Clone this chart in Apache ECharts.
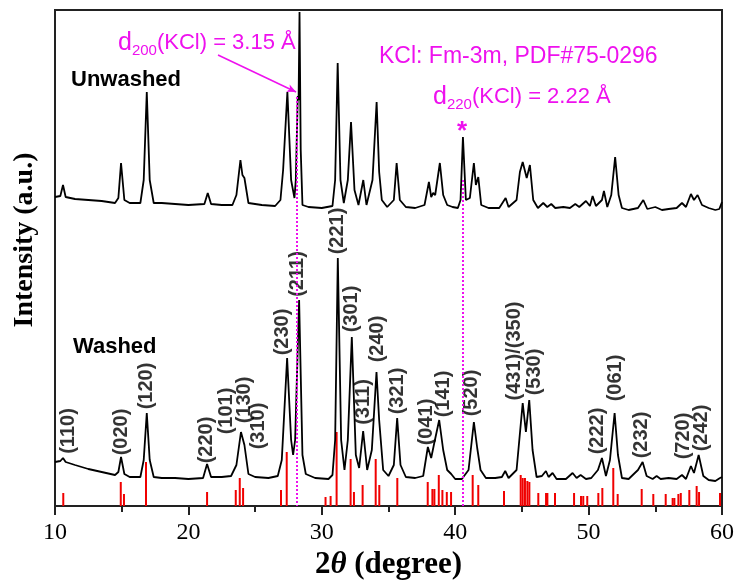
<!DOCTYPE html>
<html>
<head>
<meta charset="utf-8">
<script src="https://cdn.jsdelivr.net/npm/echarts@6/dist/echarts.min.js"></script>
<style>
html, body { margin: 0; padding: 0; background: #fff; }
#MyChart { width: 735px; height: 581px; }
</style>
</head>
<body>
<div id="MyChart"></div>
<script>
// intensity in a.u. (offset traces), 2theta in degrees
var unwashed = [
	[10.0, 309], [10.4, 310], [10.6, 321], [10.8, 309], [11.5, 307], [12.5, 306], [13.5, 305], [14.5, 303],
	[14.75, 308], [14.95, 343], [15.2, 306], [15.6, 303], [16.4, 303], [16.65, 326], [16.88, 414], [17.1, 326],
	[17.4, 303], [18, 303], [19, 302], [20, 301], [21.2, 302], [21.45, 313], [21.7, 302], [22.5, 301],
	[23.3, 301], [23.6, 311], [23.9, 346], [24.05, 331], [24.2, 328], [24.5, 303], [25.5, 301], [26.5, 300],
	[26.9, 306], [27.1, 336], [27.42, 414], [27.7, 326], [27.95, 308], [28.05, 326], [28.2, 410], [28.26, 406],
	[28.33, 494], [28.42, 356], [28.55, 301], [29, 299], [30, 298], [30.8, 300], [31.0, 326], [31.19, 443],
	[31.4, 326], [31.65, 303], [31.95, 326], [32.19, 384], [32.45, 316], [32.75, 301], [33.11, 326], [33.35, 301],
	[33.8, 326], [34.11, 404], [34.3, 334], [34.5, 306], [34.9, 299], [35.4, 306], [35.61, 343], [35.85, 306],
	[36.3, 299], [37.0, 298], [37.7, 301], [38.03, 324], [38.2, 309], [38.35, 313], [38.5, 311], [38.85, 343],
	[39.1, 311], [39.4, 301], [39.8, 299], [40.2, 298], [40.4, 306], [40.58, 369], [40.8, 306], [41.1, 308],
	[41.4, 343], [41.55, 321], [41.73, 329], [41.95, 301], [42.5, 298], [43.3, 298], [43.78, 308], [44.0, 299],
	[44.6, 306], [44.85, 334], [45.06, 344], [45.36, 328], [45.6, 341], [45.85, 306], [46.2, 298], [46.6, 303],
	[46.9, 299], [47.2, 302], [47.5, 298], [48.1, 299], [48.6, 298], [49.0, 302], [49.3, 299], [49.8, 305],
	[50.1, 300], [50.3, 310], [50.55, 300], [51.0, 306], [51.15, 315], [51.4, 299], [51.7, 311], [51.99, 349],
	[52.25, 311], [52.5, 298], [53.0, 296], [53.7, 298], [54.1, 306], [54.4, 297], [55.0, 299], [55.5, 296],
	[56.0, 297], [56.6, 298], [57.0, 303], [57.3, 299], [57.67, 312], [57.9, 306], [58.17, 311], [58.5, 301],
	[59.0, 298], [59.5, 296], [59.8, 297], [60.0, 304]
];

var washed = [
	[10.0, 44], [10.4, 45], [10.6, 48], [10.8, 44], [11.5, 41], [12.5, 37], [13.5, 34], [14.5, 31],
	[14.75, 34], [14.95, 49], [15.2, 32], [15.6, 29], [16.4, 29], [16.65, 46], [16.88, 93], [17.1, 46],
	[17.4, 29], [18, 28], [19, 28], [20, 27], [21.1, 28], [21.4, 42], [21.7, 29], [22.5, 29],
	[23.2, 30], [23.6, 41], [23.94, 74], [24.2, 61], [24.5, 32], [25, 29], [26, 28], [26.7, 30],
	[27.0, 46], [27.4, 148], [27.7, 66], [27.85, 51], [28.0, 66], [28.3, 206], [28.55, 51], [28.8, 32],
	[29.5, 28], [30.5, 27], [30.8, 31], [31.0, 66], [31.2, 248], [31.45, 66], [31.7, 36], [31.95, 66],
	[32.25, 169], [32.55, 51], [32.8, 38], [33.1, 75], [33.4, 36], [33.75, 56], [34.1, 134], [34.3, 86],
	[34.6, 36], [35.0, 30], [35.4, 41], [35.65, 88], [35.9, 41], [36.3, 29], [37.0, 28], [37.6, 30],
	[37.95, 59], [38.2, 48], [38.4, 61], [38.8, 86], [39.1, 56], [39.4, 36], [39.7, 32], [40.0, 27],
	[40.5, 27], [41.0, 36], [41.4, 84], [41.65, 58], [41.9, 36], [42.3, 28], [43.0, 28], [43.5, 29],
	[43.75, 35], [44.0, 28], [44.6, 36], [45.06, 103], [45.3, 74], [45.55, 106], [45.8, 56], [46.1, 29],
	[46.5, 30], [46.8, 35], [47.0, 29], [47.3, 33], [47.6, 27], [48.3, 27], [48.8, 33], [49.1, 28],
	[49.4, 31], [49.8, 27], [50.2, 28], [50.7, 36], [51.0, 48], [51.3, 30], [51.6, 46], [51.95, 93],
	[52.2, 51], [52.5, 28], [53.0, 27], [53.7, 36], [54.05, 44], [54.35, 30], [54.8, 27], [55.1, 30],
	[55.4, 27], [56.0, 28], [56.6, 27], [57.0, 31], [57.3, 27], [57.67, 40], [57.9, 33], [58.25, 51],
	[58.6, 30], [59.0, 26], [59.5, 25], [59.85, 28], [60.0, 29]
];

// reference pattern sticks
var sticks = [
	[10.62, 13], [14.93, 24], [15.17, 12], [16.82, 44], [21.4, 14], [23.55, 16], [23.85, 28], [24.1, 18],
	[26.94, 16], [27.37, 54], [30.28, 9], [30.66, 10], [31.11, 74], [32.16, 47], [32.41, 14], [33.06, 21],
	[34.04, 47], [34.31, 21], [35.66, 28], [37.94, 24], [38.29, 17], [38.44, 17], [38.77, 31], [39.04, 16],
	[39.37, 14], [39.69, 14], [41.31, 31], [41.73, 21], [43.66, 15], [44.91, 31], [45.06, 28], [45.23, 28],
	[45.41, 25], [45.56, 24], [46.23, 13], [46.81, 13], [46.91, 13], [47.48, 13], [48.91, 13], [49.43, 10],
	[49.6, 10], [49.9, 10], [50.73, 13], [51.03, 18], [51.85, 38], [52.18, 12], [53.98, 17], [54.85, 12],
	[55.78, 12], [56.3, 8], [56.43, 8], [56.73, 12], [56.91, 13], [57.55, 16], [58.1, 20], [58.28, 14],
	[59.85, 13]
];

// hkl labels: text, 2theta, intensity at label centre
var hklText = ['(110)', '(020)', '(120)', '(220)', '(101)', '(130)', '(310)', '(230)', '(211)', '(221)', '(301)', '(311)',
	'(240)', '(321)', '(041)', '(141)', '(520)', '(431)/(350)', '(530)', '(222)', '(061)', '(232)', '(720)', '(242)'];
var hklX = [11.0, 15.0, 16.87, 21.37, 22.87, 24.24, 25.22, 27.09, 28.14, 31.19, 32.24, 33.09,
	34.21, 35.71, 37.86, 39.09, 41.24, 44.48, 45.98, 50.7, 51.98, 53.98, 57.08, 58.48];
var hklY = [75, 74, 120, 66, 95, 106, 80, 174, 232, 275, 197, 104,
	167, 115, 84, 112, 113, 155, 134, 75, 128, 71, 70, 78];

var xTicks = [10, 20, 30, 40, 50, 60];
var kclLines = [28.15, 40.55];

var magenta = '#ee11ee';
var serif = "'Liberation Serif', 'Times New Roman', serif";
var sans = "'Liberation Sans', Arial, sans-serif";

var labelData = [];
for (var i = 0; i < hklText.length; i++) {
	labelData.push({ name: hklText[i], value: [hklX[i], hklY[i]] });
}

var option = {
	animation: false,
	grid: {
		left: 55,
		right: 13,
		top: 10,
		bottom: 75,
		outerBoundsMode: 'none',
		show: true,
		borderColor: '#222',
		borderWidth: 2
	},
	xAxis: {
		type: 'value',
		min: xTicks[0],
		max: xTicks[xTicks.length - 1],
		interval: 10,
		name: '{a|2}{t|θ}{a| (degree)}',
		nameLocation: 'middle',
		nameGap: 40,
		nameTextStyle: {
			rich: {
				a: { fontFamily: serif, fontWeight: 'bold', fontSize: 31, color: '#000' },
				t: { fontFamily: serif, fontWeight: 'bold', fontStyle: 'italic', fontSize: 31, color: '#000' }
			}
		},
		axisLine: { lineStyle: { color: '#222', width: 2 } },
		axisTick: { show: true, inside: false, length: 9, lineStyle: { color: '#222', width: 2 } },
		minorTick: { show: true, splitNumber: 2, length: 6, lineStyle: { color: '#222', width: 2 } },
		axisLabel: { fontFamily: serif, fontSize: 24, color: '#000', margin: 15 },
		splitLine: { show: false }
	},
	yAxis: {
		type: 'value',
		min: 0,
		max: 496,
		axisLine: { show: false },
		axisTick: { show: false },
		axisLabel: { show: false },
		splitLine: { show: false }
	},
	series: [{
			name: 'Unwashed',
			type: 'line',
			data: unwashed,
			showSymbol: false,
			lineStyle: { color: '#000', width: 1.8 },
			markLine: {
				silent: true,
				symbol: ['none', 'arrow'],
				symbolSize: [6, 9],
				label: { show: false },
				lineStyle: { color: magenta, type: 'solid', width: 1.5 },
				data: [[{ coord: [22.22, 451] }, { coord: [28.07, 414] }]]
			}
		},
		{
			name: 'Washed',
			type: 'line',
			data: washed,
			showSymbol: false,
			lineStyle: { color: '#000', width: 1.8 },
			markLine: {
				silent: true,
				symbol: 'none',
				label: { show: false },
				lineStyle: { color: magenta, type: [2, 2], width: 2 },
				data: [
					[{ coord: [kclLines[0], 409] }, { coord: [kclLines[0], 0] }],
					[{ coord: [kclLines[1], 326] }, { coord: [kclLines[1], 0] }]
				]
			}
		},
		{
			name: 'PDF',
			type: 'bar',
			data: sticks,
			barWidth: 2,
			itemStyle: { color: '#f00000' }
		},
		{
			name: 'hkl',
			type: 'scatter',
			data: labelData,
			symbolSize: 0,
			label: {
				show: true,
				formatter: '{b}',
				position: 'inside',
				rotate: 90,
				fontFamily: sans,
				fontWeight: 'bold',
				fontSize: 20,
				color: '#000'
			}
		}
	],
	graphic: [{
			type: 'text',
			x: 71, y: 80,
			style: { text: 'Unwashed', font: 'bold 22px ' + sans, fill: '#000', textVerticalAlign: 'middle' }
		},
		{
			type: 'text',
			x: 73, y: 347,
			style: { text: 'Washed', font: 'bold 22px ' + sans, fill: '#000', textVerticalAlign: 'middle' }
		},
		{
			type: 'text',
			x: 118, y: 43,
			style: {
				text: '{d|d}{s|200}{m|(KCl) = 3.15 Å}',
				textVerticalAlign: 'middle',
				rich: {
					d: { fontFamily: sans, fontSize: 25, fill: magenta },
					s: { fontFamily: sans, fontSize: 15, fill: magenta, padding: [16, 0, 0, 0] },
					m: { fontFamily: sans, fontSize: 22, fill: magenta }
				}
			}
		},
		{
			type: 'text',
			x: 379, y: 57,
			style: { text: 'KCl: Fm-3m, PDF#75-0296', font: '23px ' + sans, fill: magenta, textVerticalAlign: 'middle' }
		},
		{
			type: 'text',
			x: 433, y: 97,
			style: {
				text: '{d|d}{s|220}{m|(KCl) = 2.22 Å}',
				textVerticalAlign: 'middle',
				rich: {
					d: { fontFamily: sans, fontSize: 25, fill: magenta },
					s: { fontFamily: sans, fontSize: 15, fill: magenta, padding: [16, 0, 0, 0] },
					m: { fontFamily: sans, fontSize: 22, fill: magenta }
				}
			}
		},
		{
			type: 'text',
			x: 462, y: 132,
			style: { text: '*', font: 'bold 26px ' + sans, fill: magenta, textAlign: 'center', textVerticalAlign: 'middle' }
		},
		{
			type: 'text',
			x: 25, y: 240,
			rotation: Math.PI / 2,
			style: { text: 'Intensity (a.u.)', font: 'bold 28px ' + serif, fill: '#000', textAlign: 'center', textVerticalAlign: 'middle' }
		}
	]
};

var myChart1 = echarts.init(document.getElementById('MyChart'));
myChart1.setOption(option);
</script>
</body>
</html>
